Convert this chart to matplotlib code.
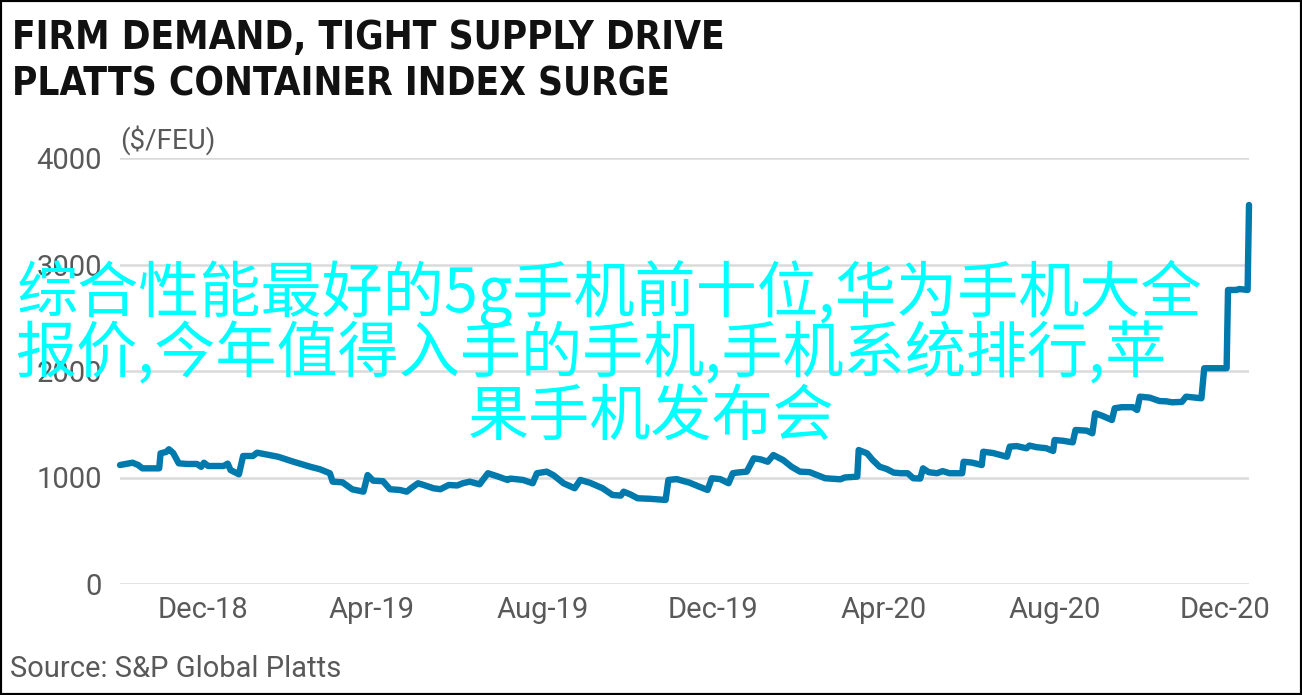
"""
Platts container index chart, Oct 2018 - Dec 2020 ($/FEU).
Writes out.png (1302x695).
"""
import matplotlib
matplotlib.use("Agg")
import matplotlib.pyplot as plt
import matplotlib.dates as mdates
import matplotlib.patches as mpatches
from matplotlib import font_manager
import pandas as pd

# ── Data ────────────────────────────────────────────────────────────────────
DATES = [
    "2018-10-03", "2018-10-12", "2018-10-16", "2018-10-19", "2018-10-31",
    "2018-11-01", "2018-11-05", "2018-11-07", "2018-11-10", "2018-11-14",
    "2018-11-20", "2018-11-27", "2018-11-30", "2018-12-02", "2018-12-05",
    "2018-12-16", "2018-12-19", "2018-12-21", "2018-12-27", "2018-12-30",
    "2019-01-06", "2019-01-09", "2019-01-16", "2019-01-24", "2019-02-04",
    "2019-02-16", "2019-02-23", "2019-03-02", "2019-03-04", "2019-03-11",
    "2019-03-18", "2019-03-26", "2019-03-29", "2019-04-02", "2019-04-09",
    "2019-04-14", "2019-04-21", "2019-04-26", "2019-04-29", "2019-05-04",
    "2019-05-08", "2019-05-15", "2019-05-20", "2019-05-26", "2019-06-01",
    "2019-06-05", "2019-06-10", "2019-06-17", "2019-06-23", "2019-06-30",
    "2019-07-07", "2019-07-09", "2019-07-18", "2019-07-25", "2019-07-28",
    "2019-08-04", "2019-08-09", "2019-08-16", "2019-08-24", "2019-08-28",
    "2019-09-04", "2019-09-13", "2019-09-20", "2019-09-26", "2019-09-28",
    "2019-10-03", "2019-10-08", "2019-10-17", "2019-10-28", "2019-10-30",
    "2019-11-05", "2019-11-07", "2019-11-14", "2019-11-21", "2019-11-27",
    "2019-11-30", "2019-12-06", "2019-12-12", "2019-12-15", "2019-12-18",
    "2019-12-25", "2019-12-30", "2020-01-04", "2020-01-09", "2020-01-13",
    "2020-01-20", "2020-01-26", "2020-02-01", "2020-02-08", "2020-02-15",
    "2020-02-19", "2020-03-01", "2020-03-04", "2020-03-13", "2020-03-14",
    "2020-03-20", "2020-03-24", "2020-03-29", "2020-04-03", "2020-04-08",
    "2020-04-13", "2020-04-18", "2020-04-22", "2020-04-27", "2020-04-29",
    "2020-05-03", "2020-05-09", "2020-05-13", "2020-05-18", "2020-05-27",
    "2020-05-28", "2020-06-03", "2020-06-10", "2020-06-11", "2020-06-18",
    "2020-06-28", "2020-06-30", "2020-07-05", "2020-07-12", "2020-07-14",
    "2020-07-19", "2020-07-26", "2020-07-31", "2020-08-01", "2020-08-07",
    "2020-08-14", "2020-08-16", "2020-08-24", "2020-08-28", "2020-08-30",
    "2020-09-04", "2020-09-11", "2020-09-13", "2020-09-18", "2020-09-26",
    "2020-09-29", "2020-10-01", "2020-10-08", "2020-10-15", "2020-10-20",
    "2020-10-24", "2020-10-31", "2020-11-03", "2020-11-10", "2020-11-14",
    "2020-11-16", "2020-12-02", "2020-12-03", "2020-12-09", "2020-12-11",
    "2020-12-17", "2020-12-18",
]
INDEX_USD_FEU = [
    1117, 1139, 1117, 1086, 1086,
    1227, 1240, 1265, 1230, 1133,
    1127, 1127, 1100, 1139, 1108,
    1108, 1130, 1070, 1030, 1202,
    1202, 1233, 1215, 1195, 1148,
    1101, 1077, 1040, 961, 955,
    889, 867, 1023, 970, 965,
    890, 883, 867, 899, 946,
    930, 899, 890, 930, 925,
    946, 961, 936, 1040, 1010,
    977, 990, 977, 946, 1040,
    1055, 1020, 946, 899, 977,
    950, 899, 836, 830, 867,
    840, 805, 800, 789, 977,
    985, 977, 952, 914, 883,
    993, 985, 946, 1040, 1046,
    1055, 1180, 1170, 1148, 1211,
    1164, 1101, 1055, 1050, 1014,
    993, 983, 1000, 1008, 1258,
    1227, 1164, 1101, 1080, 1046,
    1040, 1040, 993, 990, 1086,
    1050, 1040, 1060, 1040, 1040,
    1148, 1140, 1117, 1242, 1230,
    1195, 1290, 1295, 1274, 1300,
    1285, 1275, 1249, 1352, 1345,
    1330, 1446, 1440, 1415, 1603,
    1580, 1540, 1650, 1660, 1660,
    1634, 1759, 1750, 1718, 1715,
    1706, 1710, 1759, 1750, 1744,
    2026, 2026, 2761, 2761, 2770,
    2761, 3559,
]
Y_TICKS = [0, 1000, 2000, 3000, 4000]

TITLE_LINES = ["FIRM DEMAND, TIGHT SUPPLY DRIVE", "PLATTS CONTAINER INDEX SURGE"]
UNIT_LABEL = "($/FEU)"
SOURCE = "Source: S&P Global Platts"
OVERLAY_LINES = [
    "综合性能最好的5g手机前十位,华为手机大全",
    "报价,今年值得入手的手机,手机系统排行,苹",
    "果手机发布会",
]

# ── Style ────────────────────────────────────────────────────────────────────
LINE_COLOR = "#0079ac"
GRID_COLOR = "#dadada"
TEXT_GRAY = "#595959"
OVERLAY_COLOR = "#00ffff"

available = {f.name for f in font_manager.fontManager.ttflist}
body_font = "Roboto" if "Roboto" in available else "DejaVu Sans"

# the original title is set in a condensed bold face; use one if installed
condensed_bold = [
    f for f in font_manager.fontManager.ttflist
    if any(k in f.fname for k in ("Condensed", "Narrow"))
    and f.weight in ("bold", 700) and f.style == "normal"
]
if condensed_bold:
    title_props = font_manager.FontProperties(fname=condensed_bold[0].fname, size=27.8)
else:
    title_props = font_manager.FontProperties(family="Liberation Sans",
                                              weight="bold", size=29)

W, H = 1302, 695
fig = plt.figure(figsize=(W / 100, H / 100), dpi=100)

# plot area in pixels: x 120..1249, y 158..584
ax = fig.add_axes([120 / W, 1 - 584 / H, (1249 - 120) / W, (584 - 158) / H])

dates = pd.to_datetime(DATES)
ax.plot(dates, INDEX_USD_FEU, color=LINE_COLOR, linewidth=4.6,
        solid_joinstyle="round", solid_capstyle="round", clip_on=False, zorder=3)

ax.set_xlim(dates[0], dates[-1])
ax.set_ylim(0, 4000)
ax.set_yticks(Y_TICKS)
ax.xaxis.set_major_locator(mdates.MonthLocator(bymonth=[4, 8, 12]))
ax.xaxis.set_major_formatter(mdates.DateFormatter("%b-%y"))

for s in ax.spines.values():
    s.set_visible(False)
ax.grid(axis="y", color=GRID_COLOR, linewidth=1.8)
ax.set_axisbelow(True)
ax.tick_params(axis="both", length=0, labelsize=21, labelcolor=TEXT_GRAY)
ax.tick_params(axis="y", pad=13)
ax.tick_params(axis="x", pad=9)
for lab in ax.get_xticklabels() + ax.get_yticklabels():
    lab.set_fontfamily(body_font)

# ── Texts ────────────────────────────────────────────────────────────────────
fig.text(12 / W, 1 - 49 / H, TITLE_LINES[0], fontproperties=title_props,
         color="#111111", va="baseline", ha="left")
fig.text(12 / W, 1 - 96 / H, TITLE_LINES[1], fontproperties=title_props,
         color="#111111", va="baseline", ha="left")
fig.text(120 / W, 1 - 149 / H, UNIT_LABEL, family=body_font, fontsize=20,
         color=TEXT_GRAY, va="baseline", ha="left")
fig.text(10 / W, 1 - 677 / H, SOURCE, family=body_font, fontsize=21,
         color=TEXT_GRAY, va="baseline", ha="left")

cjk = ["Noto Sans CJK SC", "DejaVu Sans"]
for (cx, cy), line in zip([(609, 293), (591, 355), (651, 418)], OVERLAY_LINES):
    fig.text(cx / W, 1 - cy / H, line, family=cjk, fontsize=44,
             color=OVERLAY_COLOR, ha="center", va="center", zorder=10)

# thin black frame round the whole picture
fig.patches.append(mpatches.Rectangle((0, 0), 1, 1, transform=fig.transFigure,
                                      fill=False, edgecolor="black", linewidth=3))

fig.savefig("out.png", dpi=100)
